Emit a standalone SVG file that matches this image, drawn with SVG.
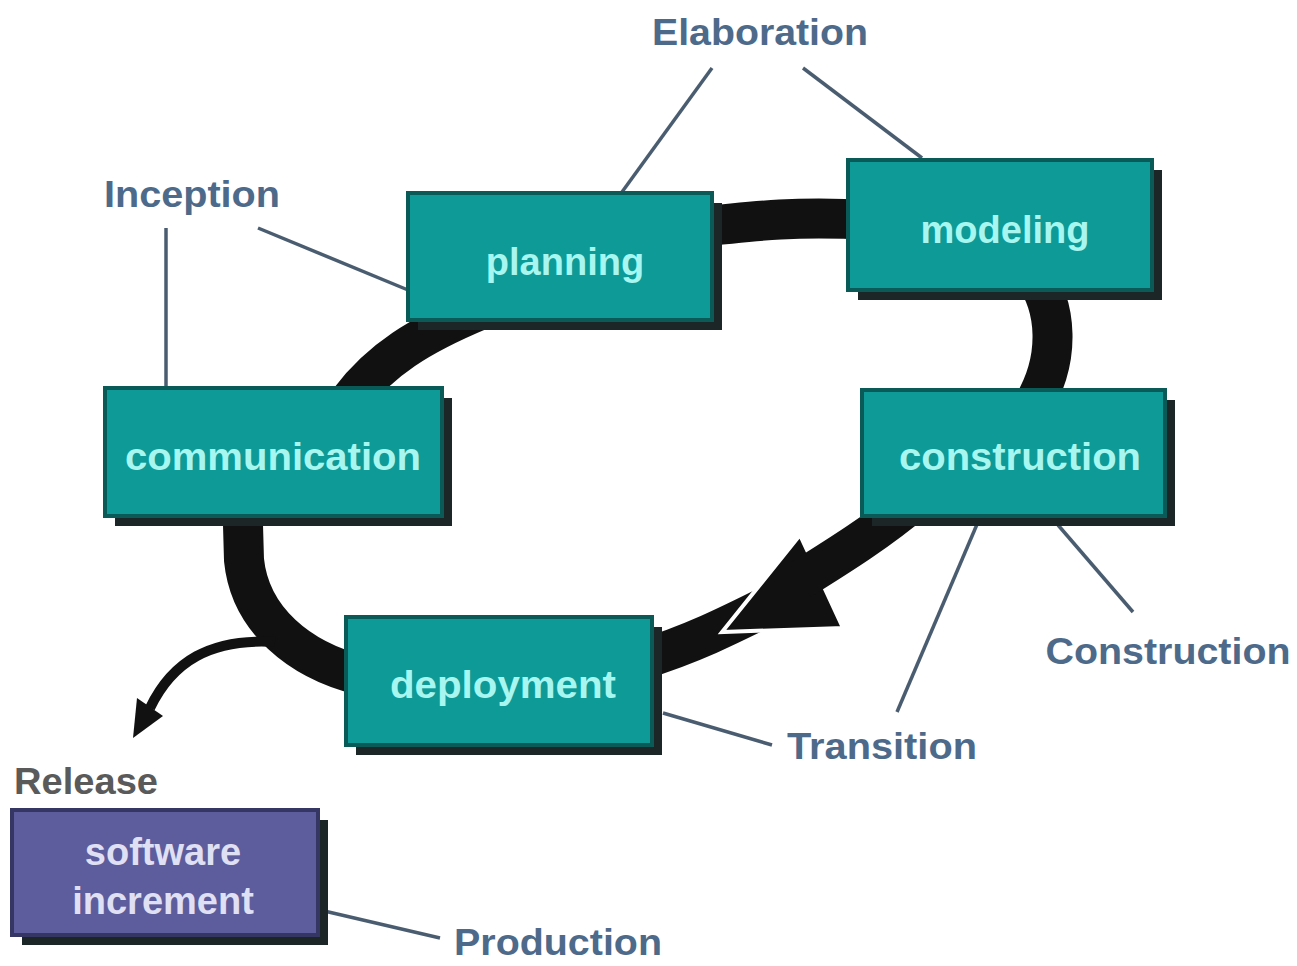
<svg xmlns="http://www.w3.org/2000/svg" width="1297" height="966" viewBox="0 0 1297 966">
<style>
.band{fill:none;stroke:#111;stroke-width:40}
.lead{fill:none;stroke:#4a5d70;stroke-width:3.5}
.shadow{fill:#1c2626}
.box{fill:#0e9a97;stroke:#0a5a58;stroke-width:4}
.pbox{fill:#5d5c9c;stroke:#363664;stroke-width:4}
.nt{font-family:"Liberation Sans",Arial,sans-serif;font-weight:bold;font-size:38px;fill:#a8f6f0;text-anchor:middle}
.pt{font-family:"Liberation Sans",Arial,sans-serif;font-weight:bold;font-size:38px;fill:#e0e0f4;text-anchor:middle}
.lab{font-family:"Liberation Sans",Arial,sans-serif;font-weight:bold;font-size:37px;fill:#4e6a8a;text-anchor:middle}
</style>
<rect width="1297" height="966" fill="#ffffff"/>
<g id="connectors">
  <path class="band" d="M690,228 C760,220 800,216 870,220"/>
  <path class="band" d="M1030,270 C1058,305 1062,360 1030,410"/>
  <path class="band" d="M770,605 C730,625 690,645 640,660"/>
  <polygon points="800,535 843,628 722,632" fill="#111" stroke="#fff" stroke-width="4" stroke-linejoin="miter"/>
  <path class="band" d="M915,500 C880,530 840,555 800,580"/>
  <path class="band" d="M360,675 C300,660 250,620 244,560 L242,490"/>
  <path d="M275,642 C210,638 172,662 150,708" fill="none" stroke="#111" stroke-width="10"/>
  <polygon points="133,738 163,716 137,698" fill="#111"/>
  <path class="band" d="M350,400 C380,360 420,335 480,310"/>
  <line class="lead" x1="712" y1="68" x2="622" y2="192"/>
  <line class="lead" x1="803" y1="68" x2="922" y2="158"/>
  <line class="lead" x1="166" y1="228" x2="166" y2="388"/>
  <line class="lead" x1="258" y1="228" x2="408" y2="290"/>
  <line class="lead" x1="1058" y1="525" x2="1133" y2="612"/>
  <line class="lead" x1="978" y1="522" x2="897" y2="712"/>
  <line class="lead" x1="663" y1="713" x2="772" y2="745"/>
  <line class="lead" x1="320" y1="910" x2="440" y2="938"/>
</g>
<g id="planning">
  <rect class="shadow" x="418" y="203" width="304" height="127"/>
  <rect class="box" x="408" y="193" width="304" height="127"/>
  <text class="nt" x="565" y="275">planning</text>
</g>
<g id="modeling">
  <rect class="shadow" x="858" y="170" width="304" height="130"/>
  <rect class="box" x="848" y="160" width="304" height="130"/>
  <text class="nt" x="1005" y="243">modeling</text>
</g>
<g id="communication">
  <rect class="shadow" x="115" y="398" width="337" height="128"/>
  <rect class="box" x="105" y="388" width="337" height="128"/>
  <text class="nt" x="273" y="470" textLength="296" lengthAdjust="spacingAndGlyphs">communication</text>
</g>
<g id="construction">
  <rect class="shadow" x="872" y="400" width="303" height="126"/>
  <rect class="box" x="862" y="390" width="303" height="126"/>
  <text class="nt" x="1020" y="470" textLength="242" lengthAdjust="spacingAndGlyphs">construction</text>
</g>
<g id="deployment">
  <rect class="shadow" x="356" y="627" width="306" height="128"/>
  <rect class="box" x="346" y="617" width="306" height="128"/>
  <text class="nt" x="503" y="698" textLength="226" lengthAdjust="spacingAndGlyphs">deployment</text>
</g>
<g id="software-increment">
  <rect class="shadow" x="22" y="820" width="306" height="125"/>
  <rect class="pbox" x="12" y="810" width="306" height="125"/>
  <text class="pt" x="163" y="865">software</text>
  <text class="pt" x="163" y="914">increment</text>
</g>
<g id="labels">
  <text class="lab" x="760" y="45" textLength="216" lengthAdjust="spacingAndGlyphs">Elaboration</text>
  <text class="lab" x="192" y="207" textLength="176" lengthAdjust="spacingAndGlyphs">Inception</text>
  <text class="lab" x="1168" y="664" textLength="245" lengthAdjust="spacingAndGlyphs">Construction</text>
  <text class="lab" x="882" y="759" textLength="190" lengthAdjust="spacingAndGlyphs">Transition</text>
  <text class="lab" x="558" y="955" textLength="208" lengthAdjust="spacingAndGlyphs">Production</text>
  <text x="86" y="794" font-family="'Liberation Sans',Arial,sans-serif" font-weight="bold" font-size="37" fill="#5a5a5a" text-anchor="middle" textLength="144" lengthAdjust="spacingAndGlyphs">Release</text>
</g>
</svg>
